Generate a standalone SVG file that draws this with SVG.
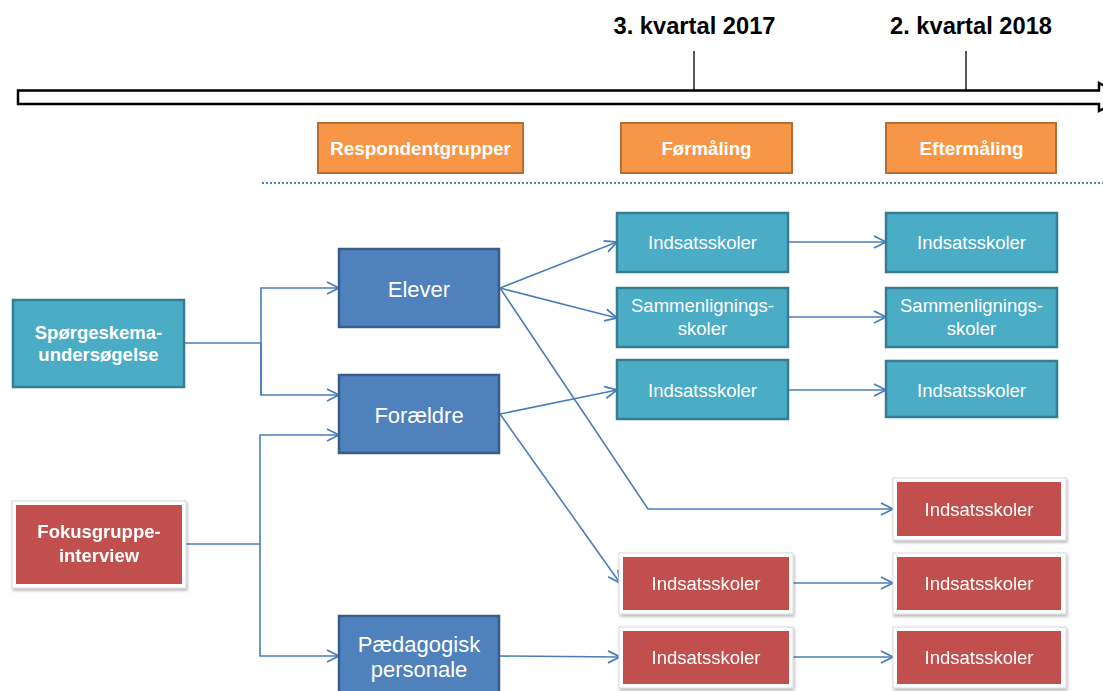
<svg xmlns="http://www.w3.org/2000/svg" width="1103" height="691" viewBox="0 0 1103 691">
<style>
.t{font-family:"Liberation Sans",Arial,sans-serif;fill:#fff;text-anchor:middle}
.b{font-weight:bold}
.n{font-family:"Liberation Sans Narrow","Liberation Sans",Arial,sans-serif;font-weight:bold;text-anchor:middle}
.teal{fill:#4BACC6;stroke:#357D91;stroke-width:2.5}
.blue{fill:#4F81BD;stroke:#385D8A;stroke-width:2.5}
.org{fill:#F79646;stroke:#B66D31;stroke-width:2}
.frame{fill:#fff;stroke:#d9d9d9;stroke-width:1}
.red{fill:#C0504D}
.c{fill:none;stroke:#4A7EBB;stroke-width:1.6}
</style>
<defs>
<marker id="ah" markerUnits="userSpaceOnUse" markerWidth="16" markerHeight="16" refX="13" refY="8" orient="auto">
<path d="M1,2 L13,8 L1,14" fill="none" stroke="#4A7EBB" stroke-width="1.8"/>
</marker>
<filter id="sh" x="-10%" y="-10%" width="125%" height="130%">
<feDropShadow dx="1" dy="2" stdDeviation="1.5" flood-color="#000" flood-opacity="0.3"/>
</filter>
</defs>
<rect width="1103" height="691" fill="#fff"/>

<g id="timeline">
<path d="M18,90.5 H1099 V83 L1125,97 L1099,111 V104 H18 Z" fill="#fff" stroke="#000" stroke-width="2.5"/>
<line x1="694" y1="51" x2="694" y2="90" stroke="#000" stroke-width="1.3"/>
<line x1="966" y1="51" x2="966" y2="90" stroke="#000" stroke-width="1.3"/>
<text class="n" x="694.5" y="34" font-size="24" fill="#000" textLength="162" lengthAdjust="spacingAndGlyphs">3. kvartal 2017</text>
<text class="n" x="971" y="34" font-size="24" fill="#000" textLength="162" lengthAdjust="spacingAndGlyphs">2. kvartal 2018</text>
<line x1="262" y1="183" x2="1103" y2="183" stroke="#4F81BD" stroke-width="2.2" stroke-dasharray="2,2"/>
</g>

<g id="h-respondent"><rect class="org" x="318" y="123" width="205" height="50"/><text class="n" x="420.5" y="155" font-size="18" fill="#fff" textLength="181" lengthAdjust="spacingAndGlyphs">Respondentgrupper</text></g>
<g id="h-formaling"><rect class="org" x="621" y="123" width="171" height="50"/><text class="n" x="706.5" y="155" font-size="18" fill="#fff" textLength="90" lengthAdjust="spacingAndGlyphs">Førmåling</text></g>
<g id="h-eftermaling"><rect class="org" x="886" y="123" width="170" height="50"/><text class="n" x="971.5" y="155" font-size="18" fill="#fff" textLength="104" lengthAdjust="spacingAndGlyphs">Eftermåling</text></g>

<g id="connectors">
<polyline class="c" points="184,343 261,343"/>
<polyline class="c" points="261,395 261,288 339,288" marker-end="url(#ah)"/>
<polyline class="c" points="261,343 261,395 339,395" marker-end="url(#ah)"/>
<polyline class="c" points="186,544 260,544"/>
<polyline class="c" points="260,544 260,435 339,435" marker-end="url(#ah)"/>
<polyline class="c" points="260,544 260,656 339,656" marker-end="url(#ah)"/>
<line class="c" x1="500" y1="288" x2="617" y2="242" marker-end="url(#ah)"/>
<line class="c" x1="500" y1="288" x2="617" y2="318" marker-end="url(#ah)"/>
<polyline class="c" points="500,288 648,509 893,509" marker-end="url(#ah)"/>
<line class="c" x1="500" y1="414" x2="617" y2="390" marker-end="url(#ah)"/>
<line class="c" x1="500" y1="414" x2="620" y2="583" marker-end="url(#ah)"/>
<line class="c" x1="500" y1="656" x2="620" y2="657" marker-end="url(#ah)"/>
<line class="c" x1="788" y1="242" x2="886" y2="242" marker-end="url(#ah)"/>
<line class="c" x1="788" y1="317" x2="886" y2="317" marker-end="url(#ah)"/>
<line class="c" x1="788" y1="390" x2="886" y2="390" marker-end="url(#ah)"/>
<line class="c" x1="793" y1="583" x2="893" y2="583" marker-end="url(#ah)"/>
<line class="c" x1="793" y1="657" x2="893" y2="657" marker-end="url(#ah)"/>
</g>

<g id="sporgeskema"><rect class="teal" x="13" y="300" width="171" height="87"/>
<text class="t b" x="98.5" y="339" font-size="18.5">Spørgeskema-</text><text class="t b" x="98.5" y="361" font-size="18.5">undersøgelse</text></g>

<g id="fokusgruppe" filter="url(#sh)"><rect class="frame" x="12" y="501" width="174" height="87"/><rect class="red" x="16" y="505" width="166" height="79"/>
<text class="t b" x="99" y="538" font-size="18.5">Fokusgruppe-</text><text class="t b" x="99" y="562" font-size="18.5">interview</text></g>

<g id="elever"><rect class="blue" x="339" y="249" width="160" height="78"/><text class="t" x="419" y="297" font-size="22">Elever</text></g>
<g id="foraeldre"><rect class="blue" x="339" y="375" width="160" height="78"/><text class="t" x="419" y="423" font-size="22">Forældre</text></g>
<g id="paedagogisk"><rect class="blue" x="339" y="616" width="160" height="80"/><text class="t" x="419" y="652" font-size="22">Pædagogisk</text><text class="t" x="419" y="677" font-size="22">personale</text></g>

<g id="f-indsats1"><rect class="teal" x="617" y="213" width="171" height="59"/><text class="t" x="702.5" y="249" font-size="18.5">Indsatsskoler</text></g>
<g id="f-sammen"><rect class="teal" x="617" y="288" width="171" height="59"/><text class="t" x="702.5" y="312" font-size="18.5">Sammenlignings-</text><text class="t" x="702.5" y="335" font-size="18.5">skoler</text></g>
<g id="f-indsats2"><rect class="teal" x="617" y="360" width="171" height="59"/><text class="t" x="702.5" y="397" font-size="18.5">Indsatsskoler</text></g>

<g id="e-indsats1"><rect class="teal" x="886" y="213" width="171" height="59"/><text class="t" x="971.5" y="249" font-size="18.5">Indsatsskoler</text></g>
<g id="e-sammen"><rect class="teal" x="886" y="288" width="171" height="59"/><text class="t" x="971.5" y="312" font-size="18.5">Sammenlignings-</text><text class="t" x="971.5" y="335" font-size="18.5">skoler</text></g>
<g id="e-indsats2"><rect class="teal" x="886" y="361" width="171" height="56"/><text class="t" x="971.5" y="397" font-size="18.5">Indsatsskoler</text></g>

<g id="r-elever" filter="url(#sh)"><rect class="frame" x="893" y="478" width="173" height="62"/><rect class="red" x="897" y="482" width="164" height="54"/><text class="t" x="979" y="516" font-size="18.5">Indsatsskoler</text></g>
<g id="r-foraeldre-f" filter="url(#sh)"><rect class="frame" x="619" y="553" width="174" height="61"/><rect class="red" x="623" y="557" width="166" height="53"/><text class="t" x="706" y="590" font-size="18.5">Indsatsskoler</text></g>
<g id="r-foraeldre-e" filter="url(#sh)"><rect class="frame" x="893" y="553" width="173" height="61"/><rect class="red" x="897" y="557" width="164" height="53"/><text class="t" x="979" y="590" font-size="18.5">Indsatsskoler</text></g>
<g id="r-paed-f" filter="url(#sh)"><rect class="frame" x="619" y="627" width="174" height="61"/><rect class="red" x="623" y="631" width="166" height="53"/><text class="t" x="706" y="664" font-size="18.5">Indsatsskoler</text></g>
<g id="r-paed-e" filter="url(#sh)"><rect class="frame" x="893" y="627" width="173" height="61"/><rect class="red" x="897" y="631" width="164" height="53"/><text class="t" x="979" y="664" font-size="18.5">Indsatsskoler</text></g>
</svg>
